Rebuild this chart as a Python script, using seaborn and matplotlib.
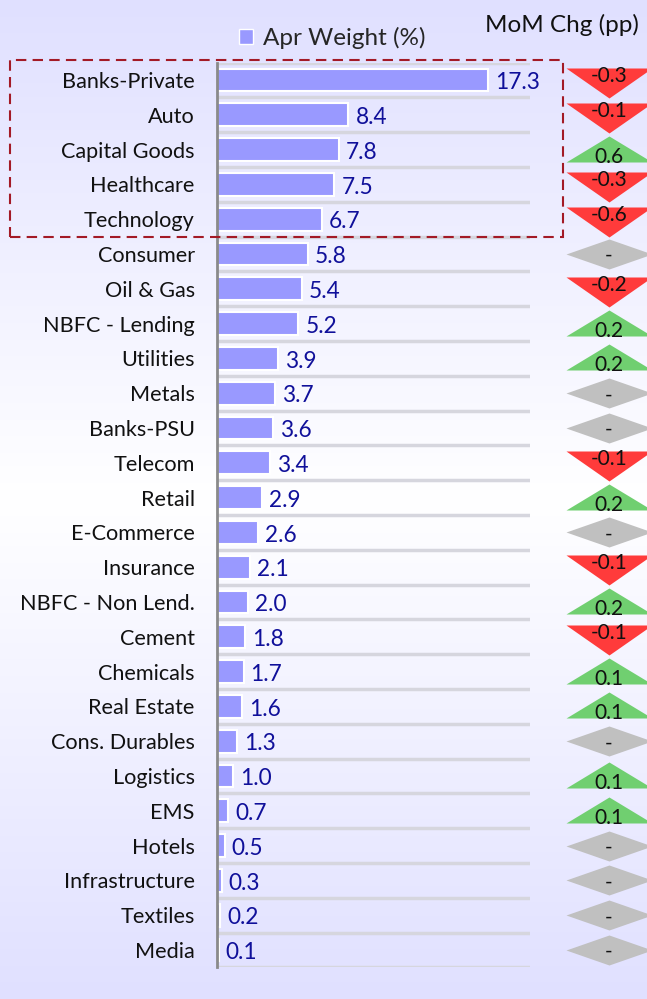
import numpy as np
import pandas as pd
import matplotlib.pyplot as plt
import seaborn as sns
from matplotlib.patches import Patch, Rectangle
from matplotlib.path import Path

# Data
sectors = ['Banks-Private', 'Auto', 'Capital Goods', 'Healthcare', 'Technology',
           'Consumer', 'Oil & Gas', 'NBFC - Lending', 'Utilities', 'Metals',
           'Banks-PSU', 'Telecom', 'Retail', 'E-Commerce', 'Insurance',
           'NBFC - Non Lend.', 'Cement', 'Chemicals', 'Real Estate',
           'Cons. Durables', 'Logistics', 'EMS', 'Hotels', 'Infrastructure',
           'Textiles', 'Media']
apr_weight = [17.3, 8.4, 7.8, 7.5, 6.7, 5.8, 5.4, 5.2, 3.9, 3.7, 3.6, 3.4, 2.9,
              2.6, 2.1, 2.0, 1.8, 1.7, 1.6, 1.3, 1.0, 0.7, 0.5, 0.3, 0.2, 0.1]
mom_chg = [-0.3, -0.1, 0.6, -0.3, -0.6, 0.0, -0.2, 0.2, 0.2, 0.0, 0.0, -0.1, 0.2,
           0.0, -0.1, 0.2, -0.1, 0.1, 0.1, 0.0, 0.1, 0.1, 0.0, 0.0, 0.0, 0.0]

df = pd.DataFrame({'Sector': sectors, 'Weight': apr_weight, 'Chg': mom_chg})

sns.set_style('white')
plt.rcParams['font.family'] = ['Lato', 'DejaVu Sans']

W, H = 647, 999
fig = plt.figure(figsize=(W / 100, H / 100), dpi=100)

# background gradient (lavender - white - lavender)
bg = fig.add_axes([0, 0, 1, 1], zorder=-10)
t = np.linspace(0, 1, 300)
g = np.abs(t - 0.5) * 2
c0 = np.array([224, 224, 255]) / 255
grad = (1 - g[:, None]) * 1.0 + g[:, None] * c0[None, :]
bg.imshow(grad[:, None, :], aspect='auto', extent=[0, 1, 0, 1])
bg.set_axis_off()

# main bar axes
top_px, bot_px = 62.6, 967.4
ax = fig.add_axes([217 / W, 1 - bot_px / H, (530 - 217) / W, (bot_px - top_px) / H])
ax.patch.set_alpha(0)
sns.barplot(data=df, x='Weight', y='Sector', orient='h', color='#9999FF',
            edgecolor='white', linewidth=1.5, width=0.66, ax=ax, saturation=1)
ax.set_xlim(0, 20)
ax.set_ylim(len(sectors) - 0.5, -0.5)
for i in range(len(sectors) + 1):
    ax.axhline(i - 0.5, color='#D6D6DE', lw=2.5, zorder=0)
for i, v in enumerate(apr_weight):
    ax.annotate(f'{v:.1f}', (v, i), xytext=(5, -2), textcoords='offset points',
                ha='left', va='center', fontsize=16.3, color='#10109A')
ax.set_xlabel('')
ax.set_ylabel('')
ax.set_xticks([])
ax.tick_params(axis='y', length=0, pad=16, labelsize=15.6, labelcolor='#111111')
for s in ['top', 'right', 'bottom']:
    ax.spines[s].set_visible(False)
ax.spines['left'].set_color('#8A8A8A')
ax.spines['left'].set_linewidth(2)

# MoM change markers
ax2 = fig.add_axes([560 / W, 1 - bot_px / H, 87 / W, (bot_px - top_px) / H])
ax2.set_axis_off()
ax2.set_xlim(0, 87)
ax2.set_ylim(len(sectors) - 0.5, -0.5)
down = Path([(-43, 12), (43, 12), (0, -18), (-43, 12)])
up = Path([(-43, -12), (43, -12), (0, 14), (-43, -12)])
dia = Path([(-43, 0), (0, 15), (43, 0), (0, -15), (-43, 0)])
size = (43 * 2 * 0.72) ** 2
xc = 49
for i, c in enumerate(mom_chg):
    if c < 0:
        m, col, lab, dy = down, '#FF3B3B', f'{c:.1f}', 4
    elif c > 0:
        m, col, lab, dy = up, '#70CF70', f'{c:.1f}', -7
    else:
        m, col, lab, dy = dia, '#C0C0C0', '-', -2
    ax2.scatter([xc], [i], marker=m, s=size, color=col, linewidths=0, clip_on=False)
    ax2.annotate(lab, (xc, i), xytext=(0, dy * 0.72), textcoords='offset points',
                 ha='center', va='center', fontsize=15, color='#111111')

# legend and header
fig.legend(handles=[Patch(facecolor='#9999FF', edgecolor='white')],
           labels=['Apr Weight (%)'], loc='center',
           bbox_to_anchor=(332 / W, 1 - 38 / H), frameon=False, fontsize=17.5,
           handlelength=0.6, handleheight=0.6, handletextpad=0.4)
fig.text(562 / W, 1 - 25 / H, 'MoM Chg (pp)', ha='center', va='center',
         fontsize=17.5, color='#111111')

# highlight box around top 5
fig.patches.append(Rectangle((10 / W, 1 - 237 / H), 553 / W, 177 / H,
                             transform=fig.transFigure, fill=False,
                             edgecolor='#A31A26', lw=1.5, ls=(0, (5, 3))))

fig.savefig('out.png', dpi=100)
